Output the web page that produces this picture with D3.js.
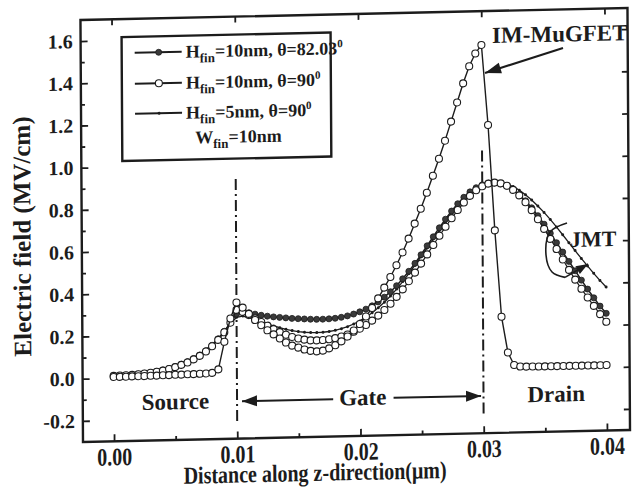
<!DOCTYPE html>
<html><head><meta charset="utf-8">
<script src="https://cdn.jsdelivr.net/npm/d3@7"></script>
<style>body{margin:0;background:#fff}</style>
</head><body>
<svg id="c" width="632" height="496"></svg>
<script>
// ---------- data ----------
const xValues = [0,0.0005,0.001,0.0015,0.002,0.0025,0.003,0.0035,0.004,0.0045,
0.005,0.0055,0.006,0.0065,0.007,0.0075,0.008,0.0085,0.009,0.0095,
0.01,0.0105,0.011,0.0115,0.012,0.0125,0.013,0.0135,0.014,0.0145,
0.015,0.0155,0.016,0.0165,0.017,0.0175,0.018,0.0185,0.019,0.0195,
0.02,0.0205,0.021,0.0215,0.022,0.0225,0.023,0.0235,0.024,0.0245,
0.025,0.0255,0.026,0.0265,0.027,0.0275,0.028,0.0285,0.029,0.0295,
0.03,0.0305,0.031,0.0315,0.032,0.0325,0.033,0.0335,0.034,0.0345,
0.035,0.0355,0.036,0.0365,0.037,0.0375,0.038,0.0385,0.039,0.0395,
0.04];
const imMuGFET = [0.005,0.005,0.005,0.006,0.006,0.006,0.007,0.007,0.008,0.008,
0.009,0.009,0.010,0.010,0.011,0.012,0.014,0.030,0.160,0.270,
0.345,0.320,0.290,0.260,0.235,0.210,0.190,0.170,0.150,0.135,
0.125,0.115,0.108,0.105,0.108,0.118,0.132,0.150,0.172,0.200,
0.230,0.265,0.305,0.350,0.400,0.450,0.505,0.565,0.630,0.700,
0.770,0.845,0.925,1.005,1.090,1.180,1.270,1.360,1.440,1.500,
1.540,1.160,0.660,0.250,0.080,0.020,0.012,0.011,0.011,0.010,
0.010,0.010,0.010,0.010,0.010,0.010,0.010,0.010,0.010,0.010,
0.010];
const jmtTheta82 = [0.010,0.011,0.012,0.014,0.016,0.019,0.022,0.027,0.033,0.040,
0.048,0.058,0.070,0.084,0.100,0.120,0.145,0.175,0.210,0.250,
0.290,0.300,0.295,0.288,0.282,0.277,0.273,0.270,0.267,0.264,
0.262,0.260,0.258,0.257,0.257,0.258,0.260,0.264,0.270,0.278,
0.288,0.300,0.315,0.333,0.355,0.380,0.408,0.440,0.475,0.512,
0.552,0.594,0.636,0.678,0.718,0.756,0.790,0.820,0.845,0.864,
0.877,0.884,0.885,0.880,0.868,0.850,0.826,0.797,0.763,0.725,
0.684,0.640,0.595,0.550,0.505,0.460,0.415,0.372,0.330,0.290,
0.255];
const jmtTheta90 = [0.010,0.011,0.012,0.013,0.015,0.018,0.021,0.025,0.030,0.037,
0.045,0.055,0.066,0.080,0.096,0.116,0.140,0.170,0.205,0.250,
0.310,0.300,0.285,0.268,0.250,0.232,0.215,0.200,0.187,0.176,
0.168,0.162,0.158,0.157,0.158,0.161,0.166,0.173,0.182,0.194,
0.208,0.225,0.245,0.268,0.294,0.323,0.355,0.390,0.428,0.468,
0.510,0.553,0.597,0.640,0.682,0.722,0.760,0.795,0.826,0.852,
0.870,0.882,0.886,0.882,0.870,0.850,0.823,0.790,0.752,0.708,
0.662,0.614,0.565,0.515,0.465,0.418,0.374,0.332,0.292,0.252,
0.215];
const jmtHfin5 = [0.012,0.013,0.014,0.016,0.018,0.021,0.025,0.030,0.036,0.043,
0.052,0.062,0.074,0.088,0.105,0.125,0.148,0.176,0.208,0.245,
0.275,0.280,0.272,0.262,0.251,0.240,0.230,0.221,0.213,0.206,
0.201,0.197,0.195,0.194,0.195,0.198,0.203,0.210,0.219,0.231,
0.245,0.262,0.282,0.305,0.331,0.360,0.392,0.427,0.464,0.503,
0.543,0.584,0.625,0.665,0.704,0.741,0.775,0.806,0.833,0.855,
0.871,0.882,0.887,0.886,0.879,0.866,0.848,0.826,0.800,0.771,
0.740,0.706,0.670,0.632,0.594,0.556,0.518,0.482,0.446,0.412,
0.380];
const xTicks = [0,0.01,0.02,0.03,0.04];
const xTickLabels = ["0.00","0.01","0.02","0.03","0.04"];
const xMinorTicks = [0.005,0.015,0.025,0.035];
const yTicks = [-0.2,0,0.2,0.4,0.6,0.8,1.0,1.2,1.4,1.6];
const yTickLabels = ["-0.2","0.0","0.2","0.4","0.6","0.8","1.0","1.2","1.4","1.6"];
const yMinorTicks = [-0.1,0.1,0.3,0.5,0.7,0.9,1.1,1.3,1.5];
const regionBoundaries = [0.01,0.03];

// ---------- layout ----------
const FONT = '"Liberation Serif","Times New Roman",serif';
const INK = '#1c1c1c';
const W = 547, H = 422;
const svg = d3.select('#c');
// the scanned figure is slightly skewed; reproduce it with one transform
const g = svg.append('g').attr('transform','matrix(1,-0.022,0.006,1,83,442)')
  .style('font-family', FONT).style('font-weight','bold').attr('fill', INK);

const x = d3.scaleLinear().domain([-0.00252, 0.04187]).range([0, W]);
const y = d3.scaleLinear().domain([-0.3, 1.7]).range([0, -H]);

// axes
function styleAxis(sel){
  sel.select('.domain').remove();
  sel.selectAll('line').attr('stroke', INK).attr('stroke-width', 1.8);
  sel.selectAll('text').attr('fill', INK).style('font-family', FONT).style('font-weight','bold');
}
g.append('g').call(d3.axisBottom(x).tickValues(xTicks).tickSize(-7).tickPadding(5)
  .tickFormat((d,i)=>xTickLabels[i])).call(styleAxis)
  .selectAll('text').style('font-size','20px').attr('transform','scale(1,1.25)');
g.append('g').call(d3.axisBottom(x).tickValues(xMinorTicks).tickSize(-4).tickFormat('')).call(styleAxis);
g.append('g').attr('transform',`translate(0,${-H})`)
  .call(d3.axisTop(x).tickValues(xTicks).tickSize(-6).tickFormat('')).call(styleAxis);
g.append('g').call(d3.axisLeft(y).tickValues(yTicks).tickSize(-7).tickPadding(8)
  .tickFormat((d,i)=>yTickLabels[i])).call(styleAxis)
  .selectAll('text').style('font-size','20px');
g.append('g').call(d3.axisLeft(y).tickValues(yMinorTicks).tickSize(-4).tickFormat('')).call(styleAxis);
g.append('g').attr('transform',`translate(${W},0)`)
  .call(d3.axisRight(y).tickValues(yTicks).tickSize(-6).tickFormat('')).call(styleAxis);

g.append('rect').attr('x',0).attr('y',-H).attr('width',W).attr('height',H)
  .attr('fill','none').attr('stroke',INK).attr('stroke-width',2.4);

// axis titles
g.append('text').attr('transform',`translate(${x(0.0163)},44) scale(1,1.22)`)
  .attr('text-anchor','middle')
  .style('font-size','20px').text('Distance along z-direction(\u03bcm)');
g.append('text').attr('transform',`translate(-60,${y(0.68)}) rotate(-90)`)
  .attr('text-anchor','middle').attr('dy','0.35em')
  .style('font-size','25px').text('Electric field (MV/cm)');

// region boundaries (dash-dot)
const bTop = [0.93, 1.04];
regionBoundaries.forEach((b,i)=>{
  g.append('line').attr('x1',x(b)).attr('x2',x(b)).attr('y1',y(bTop[i])).attr('y2',y(-0.22))
   .attr('stroke',INK).attr('stroke-width',2).attr('stroke-dasharray','11,4,2,4');
});

// series
const line = d3.line().x((d,i)=>x(xValues[i])).y(d=>y(d));
function drawSeries(vals, opt){
  g.append('path').datum(vals).attr('d', line).attr('fill','none')
    .attr('stroke', INK).attr('stroke-width', opt.lw);
  g.append('g').selectAll('circle').data(vals).join('circle')
    .attr('cx',(d,i)=>x(xValues[i])).attr('cy',d=>y(d)).attr('r',opt.r)
    .attr('fill',opt.fill).attr('stroke',opt.stroke).attr('stroke-width',opt.sw);
}
drawSeries(jmtHfin5,  {lw:1.3, r:1.5, fill:INK, stroke:'none', sw:0});
drawSeries(jmtTheta82,{lw:1.5, r:3.0, fill:'#3a3a3a', stroke:INK, sw:0.8});
drawSeries(jmtTheta90,{lw:1.2, r:3.5, fill:'#fff', stroke:INK, sw:1.1});
drawSeries(imMuGFET,  {lw:1.4, r:3.5, fill:'#fff', stroke:INK, sw:1.1});

// arrows helper
function arrow(x1,y1,x2,y2,len,wid,lw){
  g.append('line').attr('x1',x1).attr('y1',y1).attr('x2',x2).attr('y2',y2)
   .attr('stroke',INK).attr('stroke-width',lw);
  const dx=x2-x1, dy=y2-y1, L=Math.hypot(dx,dy), ux=dx/L, uy=dy/L;
  const bx=x2-ux*len, by=y2-uy*len, px=-uy*wid/2, py=ux*wid/2;
  g.append('polygon').attr('points',`${x2},${y2} ${bx+px},${by+py} ${bx-px},${by-py}`).attr('fill',INK);
}

// region labels
g.append('text').attr('x',x(0.0050)).attr('y',y(-0.155)).attr('text-anchor','middle')
  .style('font-size','23px').text('Source');
g.append('text').attr('x',x(0.0202)).attr('y',y(-0.154)).attr('text-anchor','middle')
  .style('font-size','23px').text('Gate');
g.append('text').attr('x',x(0.0359)).attr('y',y(-0.158)).attr('text-anchor','middle')
  .style('font-size','23px').text('Drain');
arrow(x(0.0178),y(-0.123),x(0.0104),y(-0.123),15,11,2);
arrow(x(0.0227),y(-0.123),x(0.0298),y(-0.123),15,11,2);

// IM-MuGFET annotation
g.append('text').attr('x',x(0.03087)).attr('y',y(1.548)).style('font-size','23px').text('IM-MuGFET');
arrow(x(0.03662),y(1.517),x(0.03028),y(1.407),16,11,2.2);

// JMT annotation
g.append('text').attr('x',x(0.0371)).attr('y',y(0.573)).style('font-size','22px').text('JMT');
const loop = [[0.03686,0.687],[0.03548,0.646],[0.03514,0.538],[0.03562,0.457],[0.03667,0.430]];
g.append('path').datum(loop)
  .attr('d', d3.line().x(d=>x(d[0])).y(d=>y(d[1])).curve(d3.curveCatmullRom))
  .attr('fill','none').attr('stroke',INK).attr('stroke-width',1.6);
arrow(x(0.03667),y(0.430),x(0.03855),y(0.491),12,9,1.6);

// legend
const lg = g.append('g').attr('transform','translate(41,-404)');
lg.append('rect').attr('width',209).attr('height',124).attr('fill','#fff')
  .attr('stroke',INK).attr('stroke-width',2.4);
const legendItems = [
  {size:'10nm', ang:'82.03', st:{r:3.0, fill:'#3a3a3a', stroke:INK, sw:0.8}},
  {size:'10nm', ang:'90',    st:{r:3.5, fill:'#fff', stroke:INK, sw:1.1}},
  {size:'5nm',  ang:'90',    st:{r:1.5, fill:INK, stroke:'none', sw:0}}
];
const rowY = [16,47,77];
legendItems.forEach((it,i)=>{
  const yy = rowY[i];
  lg.append('line').attr('x1',13).attr('x2',60).attr('y1',yy).attr('y2',yy)
    .attr('stroke',INK).attr('stroke-width',2);
  lg.append('circle').attr('cx',37).attr('cy',yy).attr('r',it.st.r)
    .attr('fill',it.st.fill).attr('stroke',it.st.stroke).attr('stroke-width',it.st.sw);
  const t = lg.append('text').attr('x',64).attr('y',yy+6).style('font-size','18px');
  t.append('tspan').text('H');
  t.append('tspan').attr('dy',5).style('font-size','13px').text('fin');
  t.append('tspan').attr('dy',-5).text(`=${it.size}, \u03b8=${it.ang}`);
  t.append('tspan').attr('dy',-7).style('font-size','11px').text('0');
});
const wt = lg.append('text').attr('x',73).attr('y',108).style('font-size','18px');
wt.append('tspan').text('W');
wt.append('tspan').attr('dy',5).style('font-size','13px').text('fin');
wt.append('tspan').attr('dy',-5).text('=10nm');
</script>
</body></html>
